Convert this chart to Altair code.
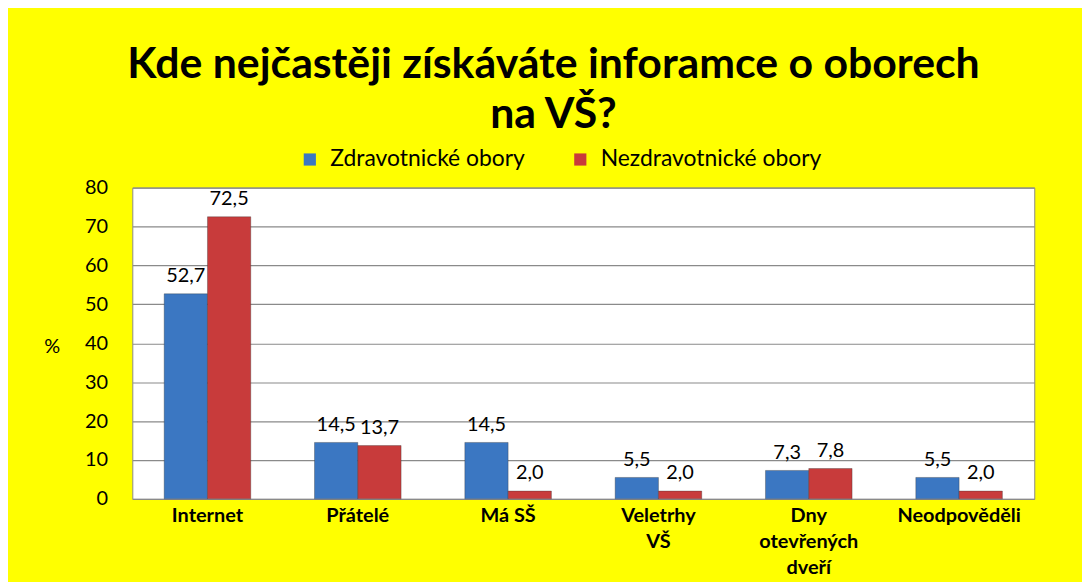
import altair as alt
import pandas as pd

categories = ["Internet", "Přátelé", "Má SŠ", "Veletrhy|VŠ", "Dny|otevřených|dveří", "Neodpověděli"]
series = ["Zdravotnické obory", "Nezdravotnické obory"]
zdravotnicke = [52.7, 14.5, 14.5, 5.5, 7.3, 5.5]
nezdravotnicke = [72.5, 13.7, 2.0, 2.0, 7.8, 2.0]
y_ticks = [0, 10, 20, 30, 40, 50, 60, 70, 80]
colors = ["#3b77c2", "#c83b3b"]

rows = []
for i, c in enumerate(categories):
    rows.append({"kat": c, "skupina": series[0], "v": zdravotnicke[i]})
    rows.append({"kat": c, "skupina": series[1], "v": nezdravotnicke[i]})
df = pd.DataFrame(rows)

FONT = "Lato"

x = alt.X("kat:N", sort=categories, title=None,
          scale=alt.Scale(paddingInner=0.424, paddingOuter=0.212),
          axis=alt.Axis(labelExpr="split(datum.label, '|')", labelAngle=0,
                        labelFontSize=20, labelFontWeight="bold", labelColor="#000",
                        labelFont=FONT, labelLineHeight=26, labelPadding=7,
                        labelBaseline="top", ticks=False, domain=False))
xo = alt.XOffset("skupina:N", sort=series)
y = alt.Y("v:Q", title="%", scale=alt.Scale(domain=[0, 80], nice=False),
          axis=alt.Axis(values=y_ticks, labelFontSize=20, labelFont=FONT,
                        labelColor="#000", labelPadding=25, ticks=False, domain=False,
                        labelOverlap=False,
                        gridColor="#8a8a8a", gridWidth=1.2,
                        titleAngle=0, titleX=-81, titleY=160, titleFontSize=20,
                        titleFont=FONT, titleFontWeight="normal", titleColor="#000",
                        titleAlign="center", titleBaseline="middle"))

bars = alt.Chart(df).mark_bar(stroke="#333", strokeOpacity=0.35, strokeWidth=1).encode(
    x=x, xOffset=xo, y=y,
    color=alt.Color("skupina:N", sort=series,
                    scale=alt.Scale(domain=series, range=colors),
                    legend=alt.Legend(title=None, orient="none", direction="horizontal",
                                      legendX=167, legendY=-40, symbolType="square",
                                      symbolSize=150, symbolStrokeWidth=0,
                                      labelFontSize=23, labelFont=FONT, labelColor="#000",
                                      labelLimit=0, columnPadding=44, labelOffset=9))
)

labels = alt.Chart(df).transform_calculate(
    lbl="replace(format(datum.v, '.1f'), '.', ',')"
).mark_text(baseline="bottom", dy=-8, fontSize=20, font=FONT, color="#000").encode(
    x=x, xOffset=xo, y=y, text="lbl:N"
)

chart = alt.layer(bars, labels).properties(
    width=907, height=313,
    background="#ffff00",
    autosize=alt.AutoSizeParams(type="none"),
    padding={"left": 125, "right": 48, "top": 179, "bottom": 82},
    title=alt.TitleParams(["Kde nejčastěji získáváte inforamce o oborech", "na VŠ?"],
                          fontSize=43, font=FONT, fontWeight="bold", color="#000",
                          lineHeight=50, anchor="middle", dx=-30, dy=4, offset=15)
).configure_view(stroke="#8a8a8a", fill="#ffffff")

chart.save("out.html", embed_options={"renderer": "svg", "actions": False})
